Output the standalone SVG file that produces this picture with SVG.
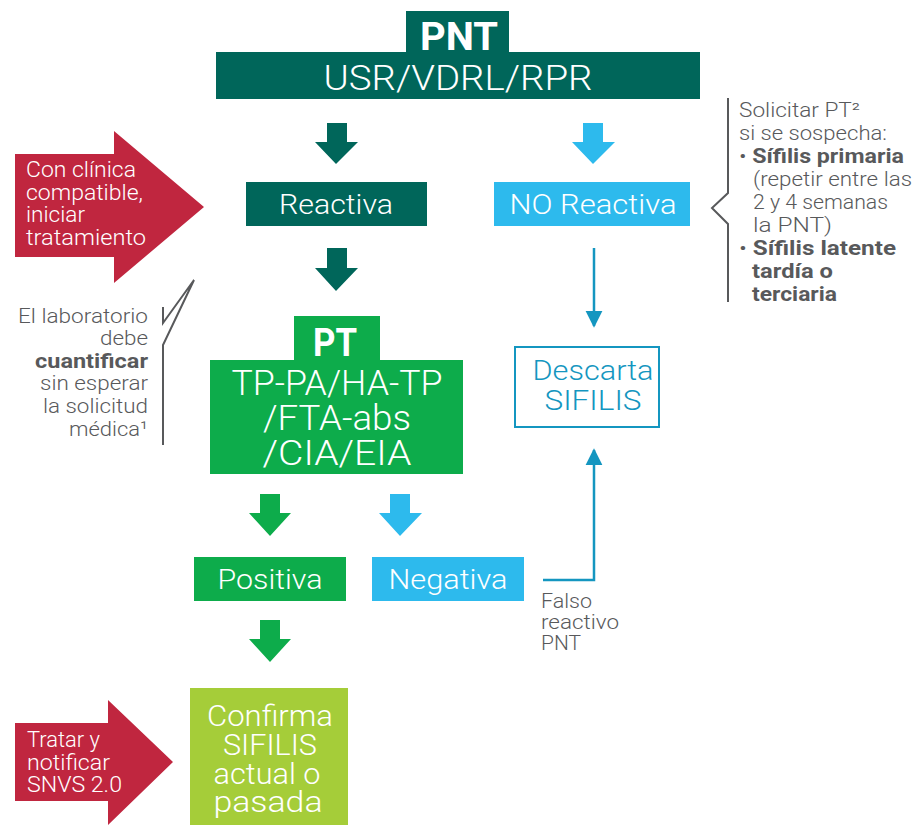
<svg xmlns="http://www.w3.org/2000/svg" width="915" height="825" viewBox="0 0 915 825">
  <defs>
    <style>
      text { font-family: Roboto, "Liberation Sans", sans-serif; font-weight: 300; }
      .w { fill: #ffffff; }
      .c { text-anchor: middle; }
      .e { text-anchor: end; }
      .b { font-weight: bold; }
      .note { fill: #58595b; font-size: 20px; }
      .tag { font-size: 22px; fill: #ffffff; }
      .teal { fill: #00665a; }
      .sky { fill: #2dbaed; }
      .green { fill: #0dac4b; }
      .lime { fill: #a5cd39; }
      .red { fill: #c0263f; }
      .thin { stroke: #1496c0; stroke-width: 2.5; fill: none; }
      .bracket { stroke: #58595b; stroke-width: 2; fill: none; }
    </style>
    <marker id="tri" viewBox="0 0 10 10" refX="9" refY="5" markerWidth="17" markerHeight="20" markerUnits="userSpaceOnUse" orient="auto">
      <path d="M0,0 L10,5 L0,10 Z" fill="#1496c0"/>
    </marker>
  </defs>

  <!-- PNT header -->
  <g id="pnt">
    <rect class="teal" x="406" y="11" width="103" height="42"/>
    <rect class="teal" x="216" y="52" width="484" height="47"/>
    <text class="w c b" x="459" y="50" font-size="38" textLength="78" lengthAdjust="spacingAndGlyphs">PNT</text>
    <text class="w c" x="458" y="90" font-size="35" textLength="269" lengthAdjust="spacingAndGlyphs">USR/VDRL/RPR</text>
  </g>

  <!-- result boxes after PNT -->
  <g id="reactiva">
    <rect class="teal" x="246" y="182" width="181" height="44"/>
    <text class="w c" x="336" y="214" font-size="28" textLength="114" lengthAdjust="spacingAndGlyphs">Reactiva</text>
  </g>
  <g id="no-reactiva">
    <rect class="sky" x="494" y="182" width="196" height="44"/>
    <text class="w c" x="593" y="214" font-size="28" textLength="167" lengthAdjust="spacingAndGlyphs">NO Reactiva</text>
  </g>

  <!-- treponemal test -->
  <g id="pt">
    <rect class="green" x="294" y="316" width="86" height="46"/>
    <rect class="green" x="210" y="360" width="253" height="114"/>
    <text class="w c b" x="335" y="356" font-size="38" textLength="44" lengthAdjust="spacingAndGlyphs">PT</text>
    <text class="w c" x="337" y="395" font-size="35" textLength="211" lengthAdjust="spacingAndGlyphs">TP-PA/HA-TP</text>
    <text class="w c" x="337" y="430" font-size="35" textLength="148" lengthAdjust="spacingAndGlyphs">/FTA-abs</text>
    <text class="w c" x="337" y="465" font-size="35" textLength="149" lengthAdjust="spacingAndGlyphs">/CIA/EIA</text>
  </g>

  <g id="descarta">
    <rect x="515" y="347" width="144" height="80" fill="#ffffff" stroke="#1496c0" stroke-width="2"/>
    <text class="c" x="593" y="380" font-size="27" fill="#1496c0" textLength="121" lengthAdjust="spacingAndGlyphs">Descarta</text>
    <text class="c" x="593" y="410" font-size="27" fill="#1496c0" textLength="97" lengthAdjust="spacingAndGlyphs">SIFILIS</text>
  </g>

  <g id="positiva">
    <rect class="green" x="194" y="557" width="152" height="44"/>
    <text class="w c" x="270" y="589" font-size="28" textLength="105" lengthAdjust="spacingAndGlyphs">Positiva</text>
  </g>
  <g id="negativa">
    <rect class="sky" x="372" y="557" width="152" height="44"/>
    <text class="w c" x="448" y="589" font-size="28" textLength="119" lengthAdjust="spacingAndGlyphs">Negativa</text>
  </g>

  <g id="confirma">
    <rect class="lime" x="190" y="688" width="158" height="137"/>
    <text class="w c" x="270" y="726" font-size="29" textLength="126" lengthAdjust="spacingAndGlyphs">Confirma</text>
    <text class="w c" x="270" y="755" font-size="29" textLength="94" lengthAdjust="spacingAndGlyphs">SIFILIS</text>
    <text class="w c" x="267" y="784" font-size="29" textLength="107" lengthAdjust="spacingAndGlyphs">actual o</text>
    <text class="w c" x="268" y="812" font-size="29" textLength="109" lengthAdjust="spacingAndGlyphs">pasada</text>
  </g>

  <!-- action callouts -->
  <g id="iniciar-tratamiento">
    <path class="red" d="M15,154 H114 V131 L204,207 L114,283 V257 H15 Z"/>
    <text class="tag" x="26" y="177" textLength="110" lengthAdjust="spacingAndGlyphs">Con clínica</text>
    <text class="tag" x="26" y="200" textLength="117" lengthAdjust="spacingAndGlyphs">compatible,</text>
    <text class="tag" x="26" y="222" textLength="59" lengthAdjust="spacingAndGlyphs">iniciar</text>
    <text class="tag" x="26" y="245" textLength="120" lengthAdjust="spacingAndGlyphs">tratamiento</text>
  </g>
  <g id="tratar-notificar">
    <path class="red" d="M15,723 H108 V700 L173,762 L108,825 V801 H15 Z"/>
    <text class="tag" x="27" y="747" textLength="73" lengthAdjust="spacingAndGlyphs">Tratar y</text>
    <text class="tag" x="27" y="770" textLength="83" lengthAdjust="spacingAndGlyphs">notificar</text>
    <text class="tag" x="27" y="792" textLength="95" lengthAdjust="spacingAndGlyphs">SNVS 2.0</text>
  </g>

  <!-- side notes -->
  <g id="nota-laboratorio">
    <polyline class="bracket" points="163,307 163,323 194,280 163,345 163,445"/>
    <text class="note e" x="148" y="323" textLength="130" lengthAdjust="spacingAndGlyphs">El laboratorio</text>
    <text class="note e" x="148" y="345" textLength="48" lengthAdjust="spacingAndGlyphs">debe</text>
    <text class="note e b" x="148" y="368" textLength="113" lengthAdjust="spacingAndGlyphs">cuantificar</text>
    <text class="note e" x="148" y="390" textLength="108" lengthAdjust="spacingAndGlyphs">sin esperar</text>
    <text class="note e" x="148" y="413" textLength="105" lengthAdjust="spacingAndGlyphs">la solicitud</text>
    <text class="note e" x="148" y="436" textLength="79" lengthAdjust="spacingAndGlyphs">médica¹</text>
  </g>
  <g id="nota-solicitar-pt">
    <polyline class="bracket" points="728,98 728,193 712,208 728,224 728,302"/>
    <text class="note" x="739" y="117" textLength="121" lengthAdjust="spacingAndGlyphs">Solicitar PT²</text>
    <text class="note" x="739" y="140" textLength="148" lengthAdjust="spacingAndGlyphs">si se sospecha:</text>
    <text class="note" x="739" y="163" textLength="165" lengthAdjust="spacingAndGlyphs">• <tspan class="b">Sífilis primaria</tspan></text>
    <text class="note" x="753" y="186" textLength="159" lengthAdjust="spacingAndGlyphs">(repetir entre las</text>
    <text class="note" x="753" y="209" textLength="135" lengthAdjust="spacingAndGlyphs">2 y 4 semanas</text>
    <text class="note" x="753" y="232" textLength="79" lengthAdjust="spacingAndGlyphs">la PNT)</text>
    <text class="note" x="739" y="255" textLength="157" lengthAdjust="spacingAndGlyphs">• <tspan class="b">Sífilis latente</tspan></text>
    <text class="note b" x="752" y="278" textLength="81" lengthAdjust="spacingAndGlyphs">tardía o</text>
    <text class="note b" x="752" y="301" textLength="85" lengthAdjust="spacingAndGlyphs">terciaria</text>
  </g>
  <g id="nota-falso-reactivo">
    <text class="note" x="541" y="608" textLength="51" lengthAdjust="spacingAndGlyphs">Falso</text>
    <text class="note" x="541" y="629" textLength="78" lengthAdjust="spacingAndGlyphs">reactivo</text>
    <text class="note" x="541" y="650" textLength="40" lengthAdjust="spacingAndGlyphs">PNT</text>
  </g>

  <!-- connectors -->
  <g id="connectors">
    <path class="teal" d="M327,123 H347 V142 H358 L336,164 L315,142 H327 Z"/>
    <path class="sky" d="M583,123 H603 V142 H615 L593,164 L572,142 H583 Z"/>
    <path class="teal" d="M327,248 H347 V268 H358 L336,291 L315,268 H327 Z"/>
    <path class="green" d="M260,494 H280 V513 H291 L270,536 L249,513 H260 Z"/>
    <path class="sky" d="M390,494 H410 V513 H422 L400,536 L379,513 H390 Z"/>
    <path class="green" d="M260,620 H280 V639 H291 L270,662 L249,639 H260 Z"/>
    <line class="thin" x1="594" y1="248" x2="594" y2="326" marker-end="url(#tri)"/>
    <polyline class="thin" points="543,580 594,580 594,450" marker-end="url(#tri)"/>
  </g>
</svg>
